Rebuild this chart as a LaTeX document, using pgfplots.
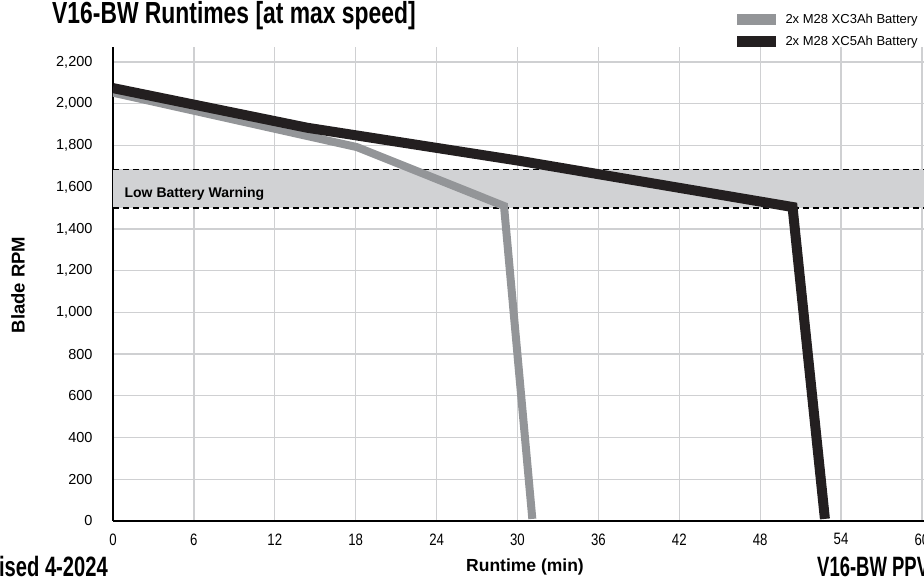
\documentclass[border=0pt]{standalone}
\usepackage{fontspec}
\setmainfont{Liberation Sans}
\usepackage{pgfplots}
\pgfplotsset{compat=1.18}

\definecolor{batgray}{HTML}{939598}
\definecolor{batblack}{HTML}{231F20}
\definecolor{bandgray}{HTML}{D1D2D4}
\definecolor{gridgray}{HTML}{CFD0D2}

% condensed bold for the title-ish texts
\newcommand{\disp}[2][0.72]{\scalebox{#1}[1]{\bfseries #2}}

\begin{document}
\begin{tikzpicture}
\useasboundingbox (0,0) rectangle (924pt,578pt);
\begin{axis}[
    at={(113pt,57pt)}, anchor=south west,
    scale only axis, width=811pt, height=474pt,
    xmin=0, xmax=60.15, ymin=0, ymax=2272,
    axis x line=bottom, axis y line=left,
    axis line style={-, line width=2pt, black},
    xtick={0,6,...,60}, ytick={0,200,...,2200},
    major tick length=0pt,
    grid=major, major grid style={gridgray, line width=1.3pt},
    /pgf/number format/assume math mode=true,
    /pgf/number format/1000 sep={,},
    yticklabel style={font=\fontsize{14.5}{16}\selectfont, xshift=-17pt},
    xticklabel={\scalebox{0.8}[1]{\pgfmathprintnumber{\tick}}},
    xticklabel style={font=\fontsize{16.5}{18}\selectfont, yshift=-9pt},
    xlabel={Runtime (min)},
    xlabel style={at={(axis description cs:0.508,-0.097)}, anchor=center, font=\bfseries\fontsize{17.5}{19}\selectfont},
    ylabel={Blade RPM},
    ylabel style={at={(axis description cs:-0.117,0.498)}, anchor=center, font=\bfseries\fontsize{18.5}{20}\selectfont},
    legend style={at={(axis description cs:0.995,1.074)}, anchor=north east,
        draw=none, fill=none, inner sep=0pt, row sep=7.5pt,
        font=\fontsize{13}{15}\selectfont},
    legend cell align=left,
]
% low battery band
\addplot[fill=bandgray, draw=none, forget plot] coordinates {(0,1500) (60.15,1500) (60.15,1685) (0,1685)};
\addplot[black, line width=1.4pt, dash pattern=on 6pt off 4pt, forget plot] coordinates {(0,1500) (60.15,1500)};
\addplot[black, line width=1.4pt, dash pattern=on 6pt off 4pt, forget plot] coordinates {(0,1685) (60.15,1685)};
\node[anchor=base west, font=\bfseries\fontsize{14}{16}\selectfont] at (axis cs:0.6,1552) {Low Battery Warning};

\addplot[batgray, line width=8pt, line join=miter,
    legend image code/.code={\path[fill=batgray, draw=none] (0pt,-5.5pt) rectangle (39pt,5.5pt); \path (42pt,0pt);}]
    coordinates {(0,2053) (18.1,1792) (29.0,1510) (31.1,10)};
\addlegendentry{2x M28 XC3Ah Battery}
\addplot[batblack, line width=10pt, line join=miter,
    legend image code/.code={\path[fill=batblack, draw=none] (0pt,-5.5pt) rectangle (39pt,5.5pt); \path (42pt,0pt);}]
    coordinates {(0,2075) (14.4,1885) (30,1728) (50.4,1505) (52.8,10)};
\addlegendentry{2x M28 XC5Ah Battery}
\end{axis}

\node[anchor=base west, inner sep=0pt, font=\fontsize{30.5}{32}\selectfont] at (52pt,554pt) {\disp[0.75]{V16-BW Runtimes [at max speed]}};
\node[anchor=base east, inner sep=0pt, font=\fontsize{28}{30}\selectfont] at (108pt,1pt) {\disp{Revised 4-2024}};
\node[anchor=base west, inner sep=0pt, font=\fontsize{28}{30}\selectfont] at (817pt,1pt) {\disp[0.66]{V16-BW PPV}};
\end{tikzpicture}
\end{document}
